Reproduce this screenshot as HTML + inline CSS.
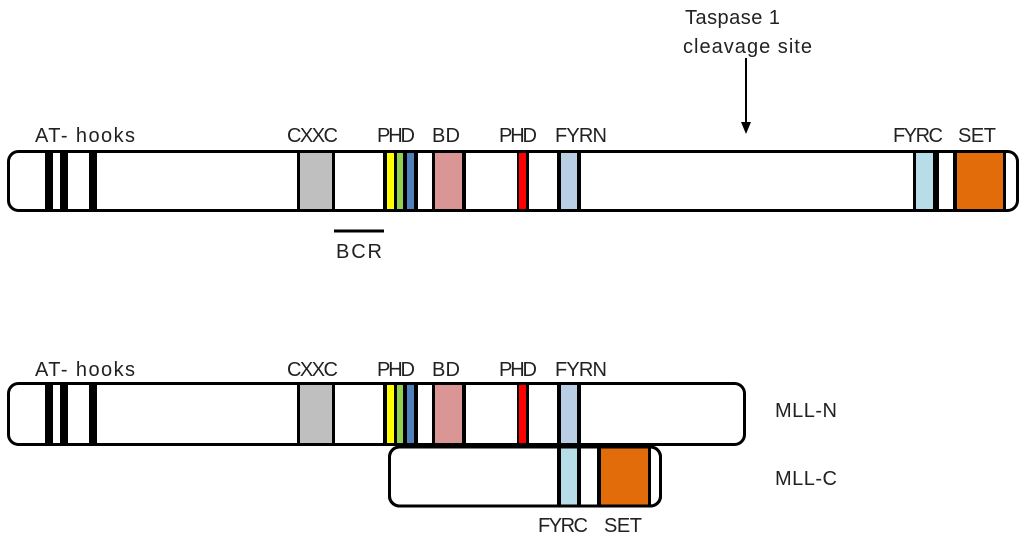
<!DOCTYPE html>
<html><head><meta charset="utf-8"><style>
body{margin:0;background:#fff}
svg{display:block}
text{font-family:"Liberation Sans",sans-serif;font-size:20px;fill:#222}
</style></head><body>
<svg width="1024" height="540" viewBox="0 0 1024 540" xmlns="http://www.w3.org/2000/svg">
<defs>
<g id="n">
  <rect x="45" y="0" width="8" height="60" fill="#000"/>
  <rect x="60" y="0" width="8" height="60" fill="#000"/>
  <rect x="89" y="0" width="8" height="60" fill="#000"/>
  <rect x="297" y="0" width="38" height="60" fill="#000"/>
  <rect x="300" y="0" width="32" height="60" fill="#bfbfbf"/>
  <rect x="383" y="0" width="35" height="60" fill="#000"/>
  <rect x="387" y="0" width="7" height="60" fill="#ffff00"/>
  <rect x="397" y="0" width="6" height="60" fill="#92d050"/>
  <rect x="407" y="0" width="7" height="60" fill="#4f81bd"/>
  <rect x="432" y="0" width="34" height="60" fill="#000"/>
  <rect x="435" y="0" width="27" height="60" fill="#d99694"/>
  <rect x="517" y="0" width="12" height="60" fill="#000"/>
  <rect x="519" y="0" width="7" height="60" fill="#ff0000"/>
  <rect x="557" y="0" width="24" height="60" fill="#000"/>
  <rect x="561" y="0" width="16" height="60" fill="#b9cde5"/>
</g>
</defs>

<!-- top -->
<text x="685" y="24" textLength="95">Taspase 1</text>
<text x="683" y="53" textLength="129">cleavage site</text>
<line x1="746" y1="58" x2="746" y2="124" stroke="#000" stroke-width="2"/>
<polygon points="741,122 751,122 746,134" fill="#000"/>

<text x="35" y="142" textLength="100">AT- hooks</text>
<text x="287" y="142" textLength="51">CXXC</text>
<text x="377" y="142" textLength="38">PHD</text>
<text x="432" y="142" textLength="28">BD</text>
<text x="499" y="142" textLength="38">PHD</text>
<text x="555" y="142" textLength="52">FYRN</text>
<text x="893" y="142" textLength="50">FYRC</text>
<text x="958" y="142" textLength="38">SET</text>

<g transform="translate(0,151)"><use href="#n"/>
  <rect x="913" y="0" width="23" height="60" fill="#000"/>
  <rect x="916" y="0" width="17" height="60" fill="#b7dde8"/>
  <rect x="936" y="0" width="3" height="60" fill="#000"/>
  <rect x="953" y="0" width="53" height="60" fill="#000"/>
  <rect x="957" y="0" width="46" height="60" fill="#e36c0a"/>
</g>
<rect x="8.5" y="151.5" width="1009" height="59" rx="10" fill="none" stroke="#000" stroke-width="3"/>

<line x1="334" y1="231" x2="384" y2="231" stroke="#000" stroke-width="3"/>
<text x="336" y="258" textLength="46">BCR</text>

<!-- bottom -->
<text x="35" y="376" textLength="100">AT- hooks</text>
<text x="287" y="376" textLength="51">CXXC</text>
<text x="377" y="376" textLength="38">PHD</text>
<text x="432" y="376" textLength="28">BD</text>
<text x="499" y="376" textLength="38">PHD</text>
<text x="555" y="376" textLength="52">FYRN</text>

<g transform="translate(0,383)"><use href="#n"/></g>
<rect x="8.5" y="383.5" width="736" height="61" rx="10" fill="none" stroke="#000" stroke-width="3"/>

<rect x="389.5" y="447" width="271" height="59" rx="10" fill="#fff" stroke="#000" stroke-width="3"/>
<rect x="557" y="447" width="24" height="59" fill="#000"/>
<rect x="561" y="448" width="16" height="57" fill="#b7dde8"/>
<rect x="597" y="447" width="54" height="59" fill="#000"/>
<rect x="601" y="448" width="47" height="57" fill="#e36c0a"/>
<rect x="389.5" y="447" width="271" height="59" rx="10" fill="none" stroke="#000" stroke-width="3"/>

<text x="775" y="417" textLength="62">MLL-N</text>
<text x="775" y="485" textLength="62">MLL-C</text>
<text x="538" y="532" textLength="50">FYRC</text>
<text x="604" y="532" textLength="38">SET</text>
</svg>
</body></html>
